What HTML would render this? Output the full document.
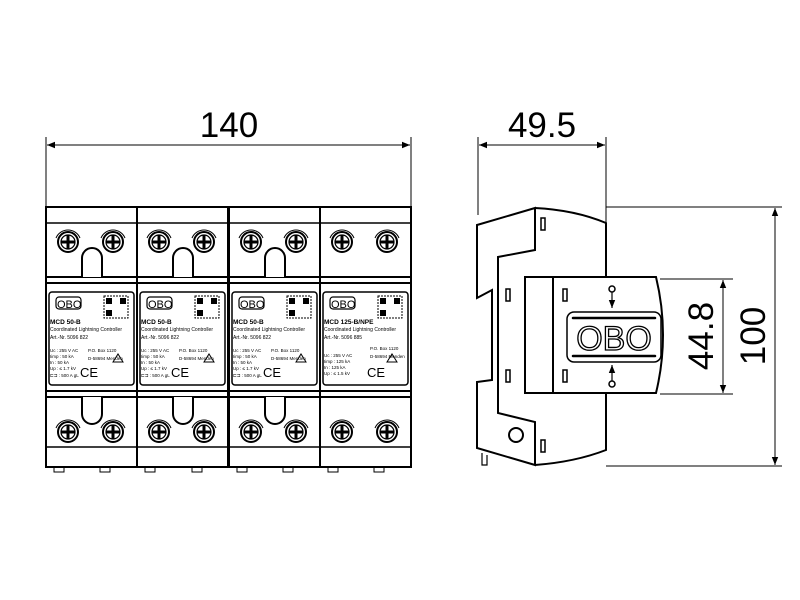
<!DOCTYPE html>
<html><head><meta charset="utf-8"><style>
html,body{margin:0;padding:0;background:#fff;}
svg{display:block;font-family:"Liberation Sans",sans-serif;}
</style></head><body>
<svg width="800" height="600" viewBox="0 0 800 600" xmlns="http://www.w3.org/2000/svg">
<defs>
<marker id="ar" viewBox="0 0 10 10" refX="10" refY="5" markerWidth="10" markerHeight="8" orient="auto-start-reverse" markerUnits="userSpaceOnUse"><path d="M0,1 L10,5 L0,9 z" fill="#000"/></marker>
<g id="screw">
<circle r="10" fill="#fff" stroke="#000" stroke-width="2"/>
<circle r="7" fill="none" stroke="#000" stroke-width="1.2"/>
<path d="M-7,0 H7 M0,-7 V7" stroke="#000" stroke-width="3"/>
<path d="M-12,-4 A13,13 0 0 1 12,-4" fill="none" stroke="#000" stroke-width="1"/>
</g>
<g id="mod">
<rect x="0" y="207" width="91" height="260" fill="#fff" stroke="#000" stroke-width="2"/>
<path d="M1,223 H90" stroke="#000" stroke-width="1.5"/>
<use href="#screw" x="22" y="242"/><use href="#screw" x="67" y="242"/>
<use href="#screw" x="22" y="432"/><use href="#screw" x="67" y="432"/>
<path d="M0,277 H91 M0,283 H91" stroke="#000" stroke-width="2"/>
<path d="M0,391 H91 M0,397 H91" stroke="#000" stroke-width="2"/>
<path d="M1,447 H90" stroke="#000" stroke-width="1.5"/>
<rect x="3" y="292" width="85" height="93" rx="3" fill="#fff" stroke="#000" stroke-width="1.5"/>
<rect x="10" y="297" width="25" height="12" rx="3" fill="none" stroke="#000" stroke-width="1.2"/>
<rect x="58" y="296" width="24" height="22" fill="none" stroke="#000" stroke-width="1" stroke-dasharray="2 1"/>
<rect x="60" y="298" width="6" height="6" fill="#000"/><rect x="74" y="298" width="6" height="6" fill="#000"/><rect x="60" y="310" width="6" height="6" fill="#000"/>
<path d="M67,362 l5,-8 l5,8 z" fill="none" stroke="#000" stroke-width="1"/>
</g>
<g id="slots">
<path d="M36,277 V258 A10,10 0 0 1 56,258 V277" fill="#fff" stroke="#000" stroke-width="2"/>
<path d="M36,397 V414 A10,10 0 0 0 56,414 V397" fill="#fff" stroke="#000" stroke-width="2"/>
</g>
</defs>

<!-- dimension 140 -->
<path d="M46,137 V206 M411,137 V206" stroke="#000" stroke-width="1"/>
<path d="M47,145 H410" stroke="#000" stroke-width="1" marker-start="url(#ar)" marker-end="url(#ar)"/>
<text x="229" y="137" font-size="35" text-anchor="middle">140</text>

<!-- modules -->
<use href="#mod" x="46"/><use href="#mod" x="137"/><use href="#mod" x="229"/><use href="#mod" x="320"/>
<use href="#slots" x="46"/><use href="#slots" x="137"/><use href="#slots" x="229"/>
<path d="M54,467 v5 h10 v-5 M100,467 v5 h10 v-5 M145,467 v5 h10 v-5 M192,467 v5 h10 v-5 M237,467 v5 h10 v-5 M283,467 v5 h10 v-5 M328,467 v5 h10 v-5 M374,467 v5 h10 v-5" fill="none" stroke="#000" stroke-width="1"/>

<g font-size="11" fill="#000">
<text x="57" y="308" font-size="11">OBO</text><text x="148" y="308" font-size="11">OBO</text><text x="240" y="308" font-size="11">OBO</text><text x="331" y="308" font-size="11">OBO</text>
</g>
<g font-size="6.5" font-weight="bold">
<text x="50" y="324">MCD 50-B</text><text x="141" y="324">MCD 50-B</text><text x="233" y="324">MCD 50-B</text><text x="324" y="324">MCD 125-B/NPE</text>
</g>
<g font-size="5">
<text x="50" y="331">Coordinated Lightning Controller</text><text x="141" y="331">Coordinated Lightning Controller</text><text x="233" y="331">Coordinated Lightning Controller</text><text x="324" y="331">Coordinated Lightning Controller</text>
<text x="50" y="339">Art.-Nr. 5096 822</text><text x="141" y="339">Art.-Nr. 5096 822</text><text x="233" y="339">Art.-Nr. 5096 822</text><text x="324" y="339">Art.-Nr. 5096 885</text>
</g>
<g font-size="4.5">
<text x="50" y="352">Uc  : 255 V AC</text><text x="50" y="358">Iimp :    50 kA</text><text x="50" y="364">In   :    50 kA</text><text x="50" y="370">Up  : ≤ 1.7 kV</text><text x="50" y="377">⊏⊐ : 500 A gL</text>
<text x="88" y="352">P.O. Box 1120</text><text x="88" y="360">D-58694 Menden</text>
<text x="141" y="352">Uc  : 255 V AC</text><text x="141" y="358">Iimp :    50 kA</text><text x="141" y="364">In   :    50 kA</text><text x="141" y="370">Up  : ≤ 1.7 kV</text><text x="141" y="377">⊏⊐ : 500 A gL</text>
<text x="179" y="352">P.O. Box 1120</text><text x="179" y="360">D-58694 Menden</text>
<text x="233" y="352">Uc  : 255 V AC</text><text x="233" y="358">Iimp :    50 kA</text><text x="233" y="364">In   :    50 kA</text><text x="233" y="370">Up  : ≤ 1.7 kV</text><text x="233" y="377">⊏⊐ : 500 A gL</text>
<text x="271" y="352">P.O. Box 1120</text><text x="271" y="360">D-58694 Menden</text>
<text x="324" y="357">Uc  : 255 V AC</text><text x="324" y="363">Iimp : 125 kA</text><text x="324" y="369">In   : 125 kA</text><text x="324" y="375">Up  : ≤ 1.5 kV</text>
<text x="370" y="350">P.O. Box 1120</text><text x="370" y="358">D-58694 Menden</text>
</g>
<g font-size="13"><text x="80" y="377">CE</text><text x="171" y="377">CE</text><text x="263" y="377">CE</text><text x="367" y="377">CE</text></g>

<!-- dimension 49.5 -->
<path d="M478,137 V215 M606,137 V222" stroke="#000" stroke-width="1"/>
<path d="M479,145 H605" stroke="#000" stroke-width="1" marker-start="url(#ar)" marker-end="url(#ar)"/>
<text x="542" y="137" font-size="35" text-anchor="middle">49.5</text>

<!-- side view -->
<path d="M535,208 Q575,210 606,223 V277 M606,393 V450 Q575,462 535,465" fill="none" stroke="#000" stroke-width="2"/>
<path d="M477,225 L535,208 V250 L498,257 V413 L535,422 V465 L477,448 V382 L492,380 V290 L477,298 Z" fill="#fff" stroke="#000" stroke-width="2"/>
<path d="M535,250 V422" stroke="#000" stroke-width="0"/>
<path d="M525,277 H656 Q670,335 656,393 H525 Z" fill="#fff" stroke="#000" stroke-width="2"/>
<path d="M553,277 V393" stroke="#000" stroke-width="2"/>
<circle cx="516" cy="435" r="7" fill="none" stroke="#000" stroke-width="2"/>
<path d="M482,453 v12 h5 v-10" fill="none" stroke="#000" stroke-width="1.2"/>
<g fill="none" stroke="#000" stroke-width="1.5">
<rect x="541" y="218" width="4" height="12"/><rect x="541" y="440" width="4" height="12"/>
<rect x="506" y="289" width="4" height="12"/><rect x="506" y="370" width="4" height="12"/>
<rect x="563" y="289" width="4" height="12"/><rect x="563" y="370" width="4" height="12"/>
</g>
<rect x="567" y="312" width="94" height="50" rx="7" fill="none" stroke="#000" stroke-width="1.5"/>
<path d="M573,318 H655 M573,356 H655" stroke="#000" stroke-width="2.5" stroke-linecap="round"/>
<text x="614" y="350" font-size="34" text-anchor="middle" fill="#fff" stroke="#000" stroke-width="1.3">OBO</text>
<circle cx="612" cy="289" r="3" fill="none" stroke="#000" stroke-width="1.5"/>
<path d="M612,292 V308" stroke="#000" stroke-width="1.2" marker-end="url(#ar)"/>
<circle cx="612" cy="384" r="3" fill="none" stroke="#000" stroke-width="1.5"/>
<path d="M612,381 V365" stroke="#000" stroke-width="1.2" marker-end="url(#ar)"/>

<!-- dimensions 44.8 / 100 -->
<path d="M606,207 H782 M606,466 H782 M660,279 H733 M660,394 H733" stroke="#000" stroke-width="1"/>
<path d="M723,280 V393" stroke="#000" stroke-width="1" marker-start="url(#ar)" marker-end="url(#ar)"/>
<path d="M775,208 V465" stroke="#000" stroke-width="1" marker-start="url(#ar)" marker-end="url(#ar)"/>
<text transform="translate(713,336) rotate(-90)" font-size="35" text-anchor="middle">44.8</text>
<text transform="translate(765,336) rotate(-90)" font-size="35" text-anchor="middle">100</text>
</svg>
</body></html>
